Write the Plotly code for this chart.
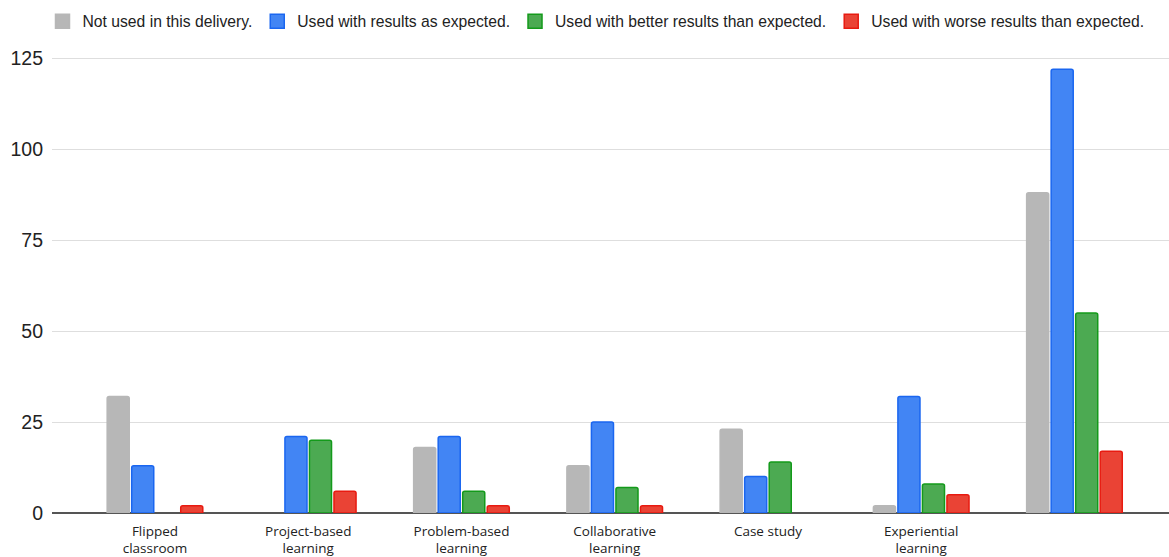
import plotly.graph_objects as go

categories = ["Flipped<br>classroom", "Project-based<br>learning", "Problem-based<br>learning",
              "Collaborative<br>learning", "Case study", "Experiential<br>learning", ""]
cat_ids = ["c0", "c1", "c2", "c3", "c4", "c5", "c6"]

series_names = ["Not used in this delivery.", "Used with results as expected.",
                "Used with better results than expected.", "Used with worse results than expected."]
not_used = [32, 0, 18, 13, 23, 2, 88]
as_expected = [13, 21, 21, 25, 10, 32, 122]
better = [0, 20, 6, 7, 14, 8, 55]
worse = [2, 6, 2, 2, 0, 5, 17]

y_ticks = [0, 25, 50, 75, 100, 125]

fills = ["#b7b7b7", "#4285f4", "#4caa52", "#ea4335"]
borders = ["#b7b7b7", "#1a66f0", "#139a1a", "#e81a10"]

fig = go.Figure()
for name, vals, fc, bc in zip(series_names, [not_used, as_expected, better, worse], fills, borders):
    fig.add_trace(go.Bar(
        x=cat_ids, y=vals, name=name, showlegend=False,
        marker=dict(color=fc, cornerradius=2,
                    line=dict(color=bc, width=[1.5 if v > 0 else 0 for v in vals])),
    ))
    # legend entry with a larger square swatch
    fig.add_trace(go.Scatter(
        x=[None], y=[None], mode="markers", name=name,
        marker=dict(symbol="square", size=14, color=fc, line=dict(color=bc, width=1.5)),
    ))

fig.update_layout(
    width=1169, height=557,
    paper_bgcolor="white", plot_bgcolor="white",
    margin=dict(l=52, r=0, t=51, b=44, autoexpand=False),
    barmode="group", bargap=0.36, bargroupgap=0.1,
    font=dict(family="Liberation Sans, Arial, sans-serif", color="#222222"),
    legend=dict(
        orientation="h", x=596 / 1169, xanchor="center", xref="container",
        y=1 - 21.5 / 557, yanchor="middle", yref="container",
        font=dict(size=15.7, color="#222222"),
        itemwidth=30, traceorder="normal",
    ),
    showlegend=True,
)
fig.update_xaxes(
    type="category", range=[-0.672, 6.617],
    tickmode="array", tickvals=cat_ids, ticktext=categories,
    showgrid=False, showline=False, ticks="",
    tickfont=dict(family="Open Sans, sans-serif", size=13.5, color="#222222"),
    ticklabelstandoff=8,
)
fig.update_yaxes(
    range=[0, 127], tickvals=y_ticks, ticktext=[str(t) for t in y_ticks],
    showgrid=True, gridcolor="#dedede", gridwidth=1.2,
    zeroline=True, zerolinecolor="#555555", zerolinewidth=1.5,
    ticks="", tickfont=dict(size=19.5, color="#222222"), ticklabelstandoff=8,
)

fig.write_html("out.html")
